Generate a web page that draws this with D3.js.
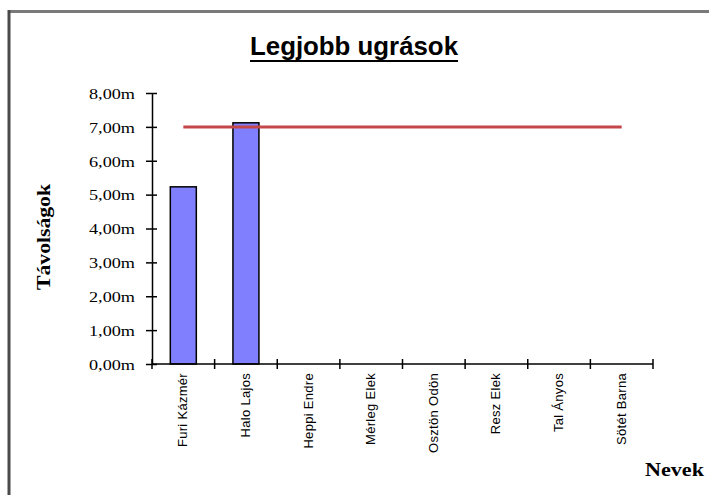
<!DOCTYPE html>
<html><head><meta charset="utf-8">
<script src="https://cdn.jsdelivr.net/npm/d3@7"></script>
<style>html,body{margin:0;padding:0;background:#fff;overflow:hidden}</style>
</head><body>
<svg id="c" width="709" height="495"></svg>
<script>
const categories = ["Furi Kázmér","Halo Lajos","Heppi Endre","Mérleg Elek","Osztön Odön","Resz Elek","Tal Ányos","Sötét Barna"];
const jumps = [5.23, 7.12, null, null, null, null, null, null];
const limitLine = [7, 7, 7, 7, 7, 7, 7, 7];
const yTicks = [0,1,2,3,4,5,6,7,8];
const yTickLabels = ["0,00m","1,00m","2,00m","3,00m","4,00m","5,00m","6,00m","7,00m","8,00m"];
const title = "Legjobb ugrások";
const yTitle = "Távolságok";
const xTitle = "Nevek";

const svg = d3.select("#c");
// frame
svg.append("rect").attr("x",8).attr("y",10).attr("width",701).attr("height",3).attr("fill","#7a7a7a");
svg.append("rect").attr("x",7.5).attr("y",10).attr("width",3).attr("height",485).attr("fill","#4a4a4a");

const x = d3.scaleBand().domain(categories).range([152, 653]).paddingInner(0).paddingOuter(0);
const y = d3.scaleLinear().domain([0, 8]).range([364, 93]);

// title
svg.append("text").attr("x",250).attr("y",55)
  .attr("font-family","Liberation Sans, Arial, sans-serif").attr("font-weight","bold")
  .attr("font-size",25).attr("textLength",208).attr("lengthAdjust","spacingAndGlyphs")
  .attr("fill","#000").text(title);
svg.append("rect").attr("x",250).attr("y",60).attr("width",208).attr("height",2).attr("fill","#000");

// bars
const bw = 26;
svg.append("g").selectAll("rect").data(categories.map((c,i)=>({c,v:jumps[i]})).filter(d=>d.v!=null))
  .join("rect")
  .attr("x", d=>x(d.c)+x.bandwidth()/2-bw/2)
  .attr("y", d=>y(d.v))
  .attr("width", bw)
  .attr("height", d=>y(0)-y(d.v))
  .attr("fill","#8080ff").attr("stroke","#000").attr("stroke-width",1.5);

// y axis
const yAxis = d3.axisLeft(y).tickValues(yTicks).tickFormat((d,i)=>yTickLabels[i]).tickSize(0);
const gy = svg.append("g").attr("transform","translate(152,0)").call(yAxis);
gy.select(".domain").attr("stroke","#000").attr("stroke-width",1.5);
gy.selectAll(".tick line").remove();
gy.selectAll(".tick").append("line").attr("x1",-6).attr("x2",5).attr("stroke","#000").attr("stroke-width",1.5);
gy.selectAll(".tick text").attr("x",-17).attr("dy","0.35em")
  .attr("font-family","Liberation Serif, Times New Roman, serif").attr("font-size",15)
  .attr("textLength",46).attr("lengthAdjust","spacingAndGlyphs").attr("fill","#000");

// x axis
const xAxis = d3.axisBottom(x).tickSize(0).tickFormat(d=>d);
const gx = svg.append("g").attr("transform","translate(0,364)").call(xAxis);
gx.select(".domain").attr("stroke","#000").attr("stroke-width",1.5).attr("d","M152,0H653");
gx.selectAll(".tick line").remove();
const edges = categories.map(c=>x(c)).concat([x(categories[categories.length-1])+x.bandwidth()]);
gx.selectAll(".edge").data(edges).join("line").attr("class","edge")
  .attr("x1",d=>d).attr("x2",d=>d).attr("y1",-5).attr("y2",5).attr("stroke","#000").attr("stroke-width",1.5);
gx.selectAll(".tick text")
  .attr("transform","rotate(-90)")
  .attr("x",-9).attr("y",4).attr("dy",0)
  .attr("text-anchor","end")
  .attr("font-family","Liberation Sans, Arial, sans-serif").attr("font-size",13)
  .attr("letter-spacing",0.3).attr("fill","#000");

// red line
const line = d3.line().x((d,i)=>x(categories[i])+x.bandwidth()/2).y(d=>y(d));
svg.append("path").datum(limitLine).attr("d",line).attr("fill","none")
  .attr("stroke","#c4484a").attr("stroke-width",3);

// axis titles
svg.append("text").attr("transform","translate(50,237) rotate(-90)").attr("text-anchor","middle")
  .attr("font-family","Liberation Serif, Times New Roman, serif").attr("font-weight","bold")
  .attr("font-size",18).attr("textLength",106).attr("lengthAdjust","spacingAndGlyphs").text(yTitle);
svg.append("text").attr("x",645).attr("y",476)
  .attr("font-family","Liberation Serif, Times New Roman, serif").attr("font-weight","bold")
  .attr("font-size",18).attr("textLength",59).attr("lengthAdjust","spacingAndGlyphs").text(xTitle);
</script>
</body></html>
